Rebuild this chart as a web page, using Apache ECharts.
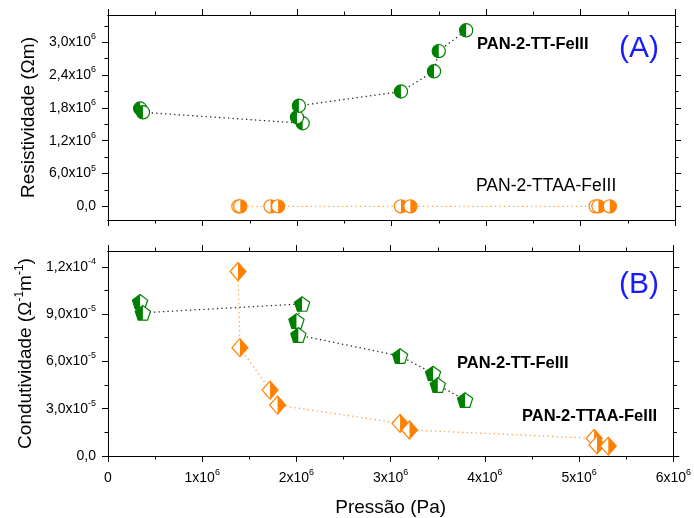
<!DOCTYPE html>
<html>
<head>
<meta charset="utf-8">
<script src="https://cdn.jsdelivr.net/npm/echarts@6/dist/echarts.min.js"></script>
<style>
  html, body { margin: 0; padding: 0; background: #ffffff; }
  #chart { width: 694px; height: 518px; }
</style>
</head>
<body>
<div id="chart"></div>
<script>
// ---- data ----
const pressureTT = [0.34e6, 0.37e6, 2.06e6, 2.00e6, 2.02e6, 3.10e6, 3.45e6, 3.50e6, 3.79e6];
const resistivityTT = [1.79e6, 1.72e6, 1.52e6, 1.63e6, 1.84e6, 2.10e6, 2.47e6, 2.84e6, 3.22e6];
const conductivityTT = [9.78e-5, 9.08e-5, 9.64e-5, 8.56e-5, 7.67e-5, 6.34e-5, 5.24e-5, 4.50e-5, 3.55e-5];

const pressureTTAA = [1.38e6, 1.40e6, 1.72e6, 1.80e6, 3.10e6, 3.20e6, 5.16e6, 5.19e6, 5.31e6];
const resistivityTTAA = [0, 0, 0, 0, 0, 0, 0, 0, 0];
const conductivityTTAA = [1.17e-4, 6.87e-5, 4.18e-5, 3.23e-5, 2.07e-5, 1.65e-5, 1.12e-5, 7.0e-6, 6.3e-6];

// ---- ticks ----
const pressureTicks = [0, 1e6, 2e6, 3e6, 4e6, 5e6, 6e6];
const pressureTickLabels = [['0', ''], ['1x10', '6'], ['2x10', '6'], ['3x10', '6'], ['4x10', '6'], ['5x10', '6'], ['6x10', '6']];
const pressureMinor = [0.5e6, 1.5e6, 2.5e6, 3.5e6, 4.5e6, 5.5e6];

const resistTicks = [0, 0.6e6, 1.2e6, 1.8e6, 2.4e6, 3.0e6];
const resistTickLabels = [['0,0', ''], ['6,0x10', '5'], ['1,2x10', '6'], ['1,8x10', '6'], ['2,4x10', '6'], ['3,0x10', '6']];
const resistMinor = [0.3e6, 0.9e6, 1.5e6, 2.1e6, 2.7e6, 3.3e6];

const conductTicks = [0, 3e-5, 6e-5, 9e-5, 1.2e-4];
const conductTickLabels = [['0,0', ''], ['3,0x10', '-5'], ['6,0x10', '-5'], ['9,0x10', '-5'], ['1,2x10', '-4']];
const conductMinor = [1.5e-5, 4.5e-5, 7.5e-5, 1.05e-4];

const GREEN = '#008000';
const ORANGE = '#ff8000';
const FONT = '"Liberation Sans", Arial, sans-serif';

const labelRich = {
  b: { fontSize: 14, fontFamily: FONT, color: '#000', lineHeight: 20 },
  s: { fontSize: 9, fontFamily: FONT, color: '#000', lineHeight: 9, verticalAlign: 'top' }
};

function richLabel(pair) {
  return pair[1] ? '{b|' + pair[0] + '}{s|' + pair[1] + '}' : '{b|' + pair[0] + '}';
}

// one axis carrying a set of ticks at fixed values
function tickAxis(o) {
  const span = Math.abs(o.max - o.min);
  const axis = {
    type: 'value',
    gridIndex: o.grid,
    position: o.pos,
    min: o.min,
    max: o.max,
    axisLine: { show: true, onZero: false, lineStyle: { color: '#000', width: 1 } },
    axisTick: { show: true, inside: false, length: o.len, customValues: o.values,
                lineStyle: { color: '#000', width: 1 } },
    axisLabel: { show: false },
    splitLine: { show: false },
    axisPointer: { show: false }
  };
  if (o.labels) {
    axis.axisLabel = {
      show: true,
      customValues: o.values,
      margin: o.margin,
      rich: labelRich,
      formatter: function (v) {
        const i = o.values.findIndex(t => Math.abs(t - v) <= span * 1e-6);
        return i >= 0 ? richLabel(o.labels[i]) : '';
      }
    };
  }
  if (o.name) {
    axis.name = o.name;
    axis.nameLocation = 'middle';
    axis.nameGap = o.nameGap;
    axis.nameTextStyle = {
      fontSize: 19, fontFamily: FONT, color: '#000',
      rich: {
        n: { fontSize: 19, fontFamily: FONT, color: '#000', lineHeight: 24 },
        s: { fontSize: 12, fontFamily: FONT, color: '#000', lineHeight: 12, verticalAlign: 'top' }
      }
    };
  }
  return axis;
}

const MAJ = 6, MIN = 3.5;
const xAxes = [];
const yAxes = [];
[0, 1].forEach(g => {
  const bottomLabels = g === 1;
  xAxes.push(tickAxis({ grid: g, pos: 'bottom', min: 0, max: 6e6, values: pressureTicks, len: MAJ,
    labels: bottomLabels ? pressureTickLabels : null, margin: 12,
    name: bottomLabels ? 'Pressão (Pa)' : null, nameGap: 42 }));
  xAxes.push(tickAxis({ grid: g, pos: 'bottom', min: 0, max: 6e6, values: pressureMinor, len: MIN }));
  xAxes.push(tickAxis({ grid: g, pos: 'top', min: 0, max: 6e6, values: pressureTicks, len: MAJ }));
  xAxes.push(tickAxis({ grid: g, pos: 'top', min: 0, max: 6e6, values: pressureMinor, len: MIN }));
});

const yRanges = [
  { min: -0.25e6, max: 3.5e6, major: resistTicks, minor: resistMinor, labels: resistTickLabels,
    name: '{n|Resistividade (Ωm)}' },
  { min: 0, max: 1.3e-4, major: conductTicks, minor: conductMinor, labels: conductTickLabels,
    name: '{n|Condutividade (Ω}{s|-1}{n|m}{s|-1}{n|)}' }
];
yRanges.forEach((r, g) => {
  yAxes.push(tickAxis({ grid: g, pos: 'left', min: r.min, max: r.max, values: r.major, len: MAJ,
    labels: r.labels, margin: 12, name: r.name, nameGap: 67 }));
  yAxes.push(tickAxis({ grid: g, pos: 'left', min: r.min, max: r.max, values: r.minor, len: MIN }));
  yAxes.push(tickAxis({ grid: g, pos: 'right', min: r.min, max: r.max, values: r.major, len: MAJ }));
  yAxes.push(tickAxis({ grid: g, pos: 'right', min: r.min, max: r.max, values: r.minor, len: MIN }));
});

// ---- half-filled markers ----
function markerPaths(shape, cx, cy, side) {
  if (shape === 'circle') {
    const r = 6.6;
    const a0 = side === 'left' ? Math.PI / 2 : -Math.PI / 2;
    return {
      full: { type: 'circle', shape: { cx: cx, cy: cy, r: r } },
      half: { type: 'sector', shape: { cx: cx, cy: cy, r0: 0, r: r, startAngle: a0, endAngle: a0 + Math.PI, clockwise: true } }
    };
  }
  if (shape === 'pentagon') {
    const R = 8;
    const oy = cy + 0.8;
    const pt = deg => [cx + R * Math.cos(deg * Math.PI / 180), oy + R * Math.sin(deg * Math.PI / 180)];
    const top = pt(-90), ur = pt(-18), lr = pt(54), ll = pt(126), ul = pt(198);
    const bm = [cx, ll[1]];
    const halfPts = side === 'left' ? [top, ul, ll, bm] : [top, ur, lr, bm];
    return {
      full: { type: 'polygon', shape: { points: [top, ur, lr, ll, ul] } },
      half: { type: 'polygon', shape: { points: halfPts } }
    };
  }
  // diamond
  const w = 8, h = 9;
  const t = [cx, cy - h], rr = [cx + w, cy], b = [cx, cy + h], l = [cx - w, cy];
  return {
    full: { type: 'polygon', shape: { points: [t, rr, b, l] } },
    half: { type: 'polygon', shape: { points: side === 'left' ? [t, b, l] : [t, rr, b] } }
  };
}

function markerSeries(name, g, xs, ys, shape, color, side) {
  return {
    type: 'custom',
    name: name,
    coordinateSystem: 'cartesian2d',
    xAxisIndex: g * 4,
    yAxisIndex: g * 4,
    clip: false,
    z: 5,
    data: xs.map((x, i) => [x, ys[i]]),
    renderItem: function (params, api) {
      const p = api.coord([api.value(0), api.value(1)]);
      const m = markerPaths(shape, p[0], p[1], side);
      const base = Object.assign({}, m.full, { style: { fill: '#ffffff', stroke: null } });
      const half = Object.assign({}, m.half, { style: { fill: color, stroke: null } });
      const edge = Object.assign({}, m.full, { style: { fill: null, stroke: color, lineWidth: 1.2 } });
      return { type: 'group', children: [base, half, edge] };
    }
  };
}

function lineSeries(name, g, xs, ys, color) {
  return {
    type: 'line',
    name: name,
    xAxisIndex: g * 4,
    yAxisIndex: g * 4,
    data: xs.map((x, i) => [x, ys[i]]),
    symbol: 'none',
    z: 2,
    lineStyle: { color: color, width: 1.3, type: [1.3, 3.2] },
    silent: true
  };
}

const textStyle = (text, size, weight, color) => ({
  text: text, fontSize: size, fontWeight: weight, fontFamily: FONT, fill: color, verticalAlign: 'middle'
});

const option = {
  animation: false,
  backgroundColor: '#ffffff',
  grid: [
    { left: 108, right: 19, top: 15, height: 205, containLabel: false },
    { left: 108, right: 19, top: 251, height: 205, containLabel: false }
  ],
  xAxis: xAxes,
  yAxis: yAxes,
  series: [
    lineSeries('PAN-2-TT-FeIII', 0, pressureTT, resistivityTT, '#222222'),
    lineSeries('PAN-2-TTAA-FeIII', 0, pressureTTAA, resistivityTTAA, '#ffa040'),
    lineSeries('PAN-2-TT-FeIII', 1, pressureTT, conductivityTT, '#222222'),
    lineSeries('PAN-2-TTAA-FeIII', 1, pressureTTAA, conductivityTTAA, '#ffa040'),
    markerSeries('PAN-2-TT-FeIII', 0, pressureTT, resistivityTT, 'circle', GREEN, 'left'),
    markerSeries('PAN-2-TTAA-FeIII', 0, pressureTTAA, resistivityTTAA, 'circle', ORANGE, 'right'),
    markerSeries('PAN-2-TT-FeIII', 1, pressureTT, conductivityTT, 'pentagon', GREEN, 'left'),
    markerSeries('PAN-2-TTAA-FeIII', 1, pressureTTAA, conductivityTTAA, 'diamond', ORANGE, 'right')
  ],
  graphic: [
    { type: 'text', x: 477, y: 44, style: textStyle('PAN-2-TT-FeIII', 16.5, 'bold', '#000') },
    { type: 'text', x: 619, y: 49, style: textStyle('(A)', 30, 'normal', '#1a1aff') },
    { type: 'text', x: 476, y: 186, style: textStyle('PAN-2-TTAA-FeIII', 17.5, 'normal', '#000') },
    { type: 'text', x: 619, y: 285, style: textStyle('(B)', 30, 'normal', '#1a1aff') },
    { type: 'text', x: 457, y: 363, style: textStyle('PAN-2-TT-FeIII', 16.5, 'bold', '#000') },
    { type: 'text', x: 522, y: 416, style: textStyle('PAN-2-TTAA-FeIII', 16.5, 'bold', '#000') }
  ]
};

const chart = echarts.init(document.getElementById('chart'), null, { renderer: 'canvas' });
chart.setOption(option);
</script>
</body>
</html>
